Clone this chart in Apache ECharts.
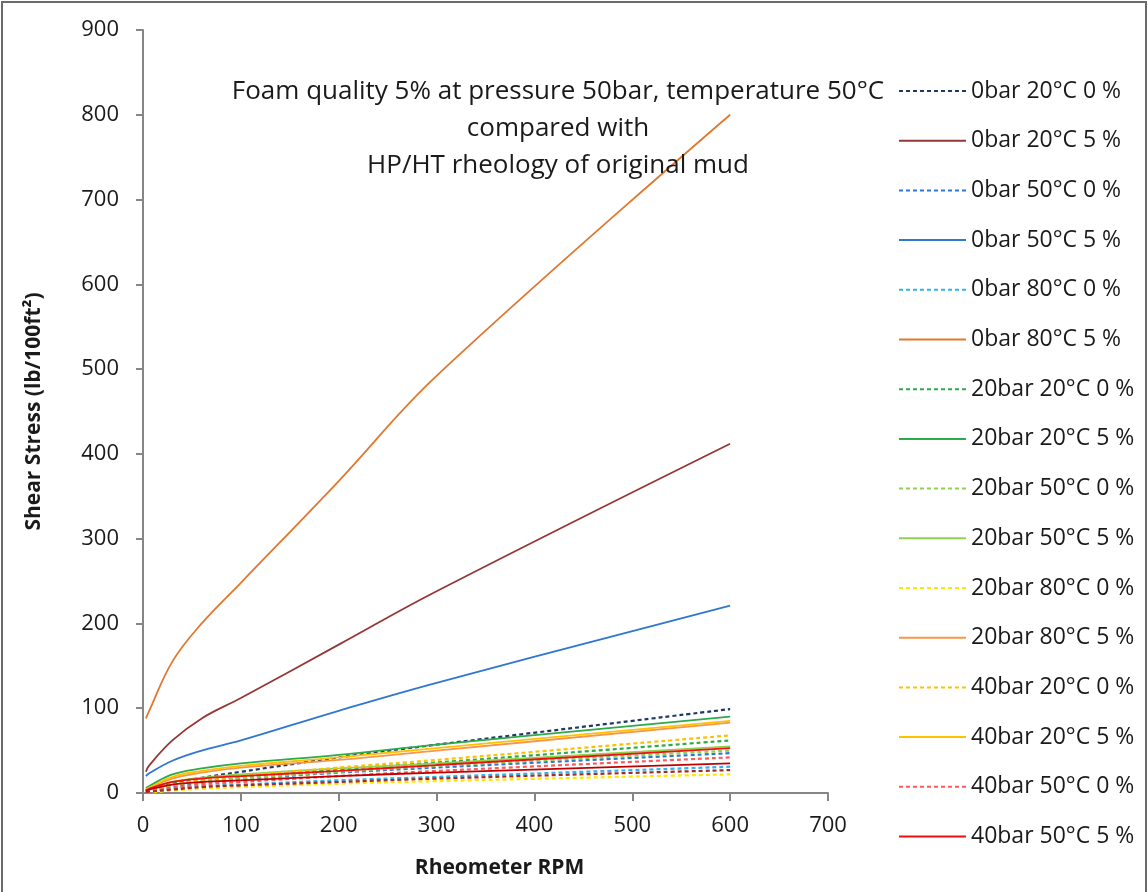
<!DOCTYPE html>
<html>
<head>
<meta charset="utf-8">
<script src="https://cdn.jsdelivr.net/npm/echarts@6/dist/echarts.min.js"></script>
<style>
html,body{margin:0;padding:0;background:#fff;}
#chart{width:1148px;height:892px;}
</style>
</head>
<body>
<div id="chart"></div>
<script>
// Rheometer speeds (x values)
const rpm = [3, 6, 30, 60, 100, 200, 300, 600];

// Shear stress readings (lb/100ft²)
const bar0_20C_0  = [3, 5, 12, 18, 25, 42, 57, 99];
const bar0_20C_5  = [25, 32, 62, 88, 112, 175, 238, 412];
const bar0_50C_0  = [2, 3, 8, 12, 16, 24, 30, 47];
const bar0_50C_5  = [20, 23, 38, 50, 62, 97, 130, 221];
const bar0_80C_0  = [1, 2, 5, 8, 10, 15, 19, 31];
const bar0_80C_5  = [88, 96, 155, 200, 248, 368, 492, 800];
const bar20_20C_0 = [2, 3, 10, 15, 19, 28, 36, 62];
const bar20_20C_5 = [6, 8, 22, 29, 35, 45, 57, 90];
const bar20_50C_0 = [2, 3, 9, 13, 17, 25, 32, 50];
const bar20_50C_5 = [3, 5, 13, 18, 22, 29, 35, 55];
const bar20_80C_0 = [1, 1, 3, 5, 7, 11, 14, 22];
const bar20_80C_5 = [4, 6, 17, 24, 30, 39, 50, 83];
const bar40_20C_0 = [2, 3, 10, 15, 20, 30, 39, 68];
const bar40_20C_5 = [4, 6, 19, 26, 32, 42, 53, 85];
const bar40_50C_0 = [1, 2, 6, 10, 13, 20, 26, 42];
const bar40_50C_5 = [3, 5, 13, 17, 20, 26, 33, 53];
const bar40_80C_0 = [1, 1.5, 4, 7, 9, 13, 17, 27];
const bar40_80C_5 = [2, 4, 10, 13, 15, 20, 24, 35];

// Axis ticks
const xTicks = [0, 100, 200, 300, 400, 500, 600, 700];
const yTicks = [0, 100, 200, 300, 400, 500, 600, 700, 800, 900];

const seriesDefs = [
  {name: '0bar 20°C 0 %',  data: bar0_20C_0,  color: '#1F3864', dash: true},
  {name: '0bar 20°C 5 %',  data: bar0_20C_5,  color: '#953735', dash: false},
  {name: '0bar 50°C 0 %',  data: bar0_50C_0,  color: '#2F77D1', dash: true},
  {name: '0bar 50°C 5 %',  data: bar0_50C_5,  color: '#2F77D1', dash: false},
  {name: '0bar 80°C 0 %',  data: bar0_80C_0,  color: '#2FB3EE', dash: true},
  {name: '0bar 80°C 5 %',  data: bar0_80C_5,  color: '#E0782F', dash: false},
  {name: '20bar 20°C 0 %', data: bar20_20C_0, color: '#2DAA4A', dash: true},
  {name: '20bar 20°C 5 %', data: bar20_20C_5, color: '#2DAA4A', dash: false},
  {name: '20bar 50°C 0 %', data: bar20_50C_0, color: '#92D050', dash: true},
  {name: '20bar 50°C 5 %', data: bar20_50C_5, color: '#92D050', dash: false},
  {name: '20bar 80°C 0 %', data: bar20_80C_0, color: '#FFE800', dash: true},
  {name: '20bar 80°C 5 %', data: bar20_80C_5, color: '#F79646', dash: false},
  {name: '40bar 20°C 0 %', data: bar40_20C_0, color: '#FFC000', dash: true},
  {name: '40bar 20°C 5 %', data: bar40_20C_5, color: '#FFC000', dash: false},
  {name: '40bar 50°C 0 %', data: bar40_50C_0, color: '#FF5A5A', dash: true},
  {name: '40bar 50°C 5 %', data: bar40_50C_5, color: '#F01010', dash: false},
  {name: '40bar 80°C 0 %', data: bar40_80C_0, color: '#A52A2A', dash: true},
  {name: '40bar 80°C 5 %', data: bar40_80C_5, color: '#C00000', dash: false}
];
const legendNames = seriesDefs.slice(0, 16).map(s => s.name);

const FONT = 'Open Sans';

const series = seriesDefs.map(s => ({
  name: s.name,
  type: 'line',
  smooth: 0.4,
  symbol: 'none',
  showSymbol: false,
  color: s.color,
  lineStyle: {color: s.color, width: s.dash ? 2.2 : 1.8, type: s.dash ? [4, 3] : 'solid'},
  data: rpm.map((x, i) => [x, s.data[i]]),
  z: 2
}));

const chart = echarts.init(document.getElementById('chart'), null, {renderer: 'canvas'});
chart.setOption({
  backgroundColor: '#fff',
  animation: false,
  textStyle: {fontFamily: FONT},
  title: {
    text: 'Foam quality 5% at pressure 50bar, temperature 50°C\ncompared with\nHP/HT rheology of original mud',
    left: 553,
    top: 68,
    textAlign: 'center',
    textStyle: {fontFamily: FONT, fontSize: 26, fontWeight: 'normal', color: '#1a1a1a', lineHeight: 37}
  },
  legend: {
    orient: 'vertical',
    left: 893,
    top: 73,
    data: legendNames,
    itemWidth: 67,
    itemHeight: 14,
    itemGap: 23.7,
    itemStyle: {opacity: 0},
    textStyle: {fontFamily: FONT, fontSize: 23, color: '#1a1a1a', lineHeight: 26}
  },
  grid: {left: 143, top: 30, right: 320, bottom: 99, containLabel: false},
  xAxis: {
    type: 'value',
    min: xTicks[0],
    max: xTicks[xTicks.length - 1],
    interval: 100,
    name: 'Rheometer RPM',
    nameLocation: 'middle',
    nameGap: 65,
    nameTextStyle: {fontFamily: FONT, fontSize: 21, fontWeight: 'bold', color: '#1a1a1a', padding: [0, 0, 0, 28]},
    axisLine: {show: true, lineStyle: {color: '#868686', width: 2}},
    axisTick: {show: true, length: 8, inside: false, lineStyle: {color: '#868686', width: 2}},
    axisLabel: {fontFamily: FONT, fontSize: 22, color: '#1a1a1a', margin: 22},
    splitLine: {show: false}
  },
  yAxis: {
    type: 'value',
    min: yTicks[0],
    max: yTicks[yTicks.length - 1],
    interval: 100,
    name: 'Shear Stress (lb/100ft²)',
    nameLocation: 'middle',
    nameGap: 98,
    nameTextStyle: {fontFamily: FONT, fontSize: 21, fontWeight: 'bold', color: '#1a1a1a'},
    axisLine: {show: true, lineStyle: {color: '#868686', width: 2}},
    axisTick: {show: true, length: 7, inside: false, lineStyle: {color: '#868686', width: 2}},
    axisLabel: {fontFamily: FONT, fontSize: 22, color: '#1a1a1a', margin: 24},
    splitLine: {show: false}
  },
  graphic: [{
    type: 'rect',
    shape: {x: 2, y: 2, width: 1144, height: 900},
    style: {fill: 'none', stroke: '#6b6b6b', lineWidth: 2},
    silent: true,
    z: -1
  }],
  series: series
});
</script>
</body>
</html>
